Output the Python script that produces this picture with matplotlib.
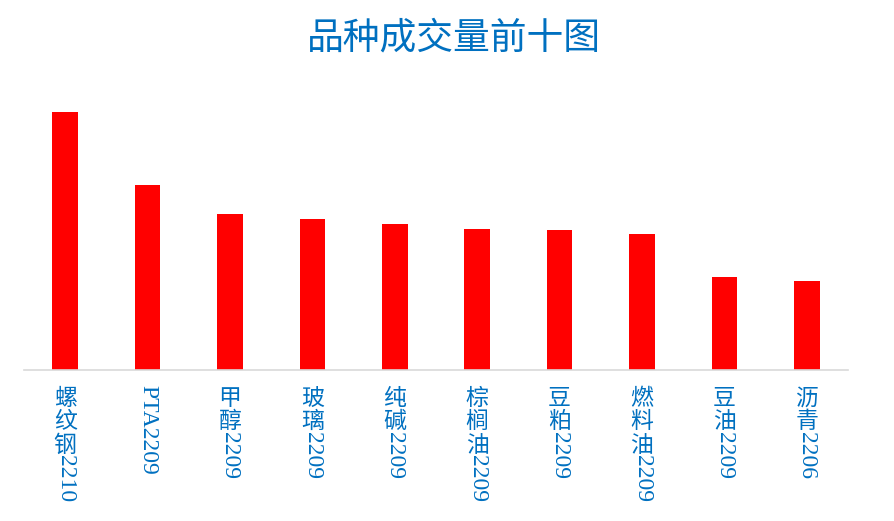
import matplotlib
matplotlib.use("Agg")
import matplotlib.pyplot as plt

categories = ["螺纹钢2210", "PTA2209", "甲醇2209", "玻璃2209", "纯碱2209",
              "棕榈油2209", "豆粕2209", "燃料油2209", "豆油2209", "沥青2206"]
volumes = [257, 184, 155, 150, 145, 140, 139, 135, 92, 88]

W, H = 895, 521
fig = plt.figure(figsize=(W / 100, H / 100), dpi=100)
ax_left, ax_right = 24 / W, 848 / W
ax_bottom, ax_top = 1 - 369.5 / H, 1 - 90 / H
ax = fig.add_axes([ax_left, ax_bottom, ax_right - ax_left, ax_top - ax_bottom])

x = list(range(len(categories)))
ax.bar(x, volumes, width=0.31, color="#FF0000", zorder=2)
ax.set_xlim(-0.5, len(categories) - 0.5)
ax.set_ylim(0, 278.5)

for s in ["left", "right", "top"]:
    ax.spines[s].set_visible(False)
ax.spines["bottom"].set_color("#D9D9D9")
ax.spines["bottom"].set_linewidth(1.2)
ax.set_xticks([])
ax.set_yticks([])

blue = "#0070C0"
cjk = "Noto Sans CJK SC"
serif = "Liberation Serif"
fs = 16.5
adv = 16.8  # points per stacked CJK character
gap = 12.5

for i, lab in enumerate(categories):
    # split CJK prefix and ASCII suffix
    k = 0
    while k < len(lab) and ord(lab[k]) > 127:
        k += 1
    prefix, suffix = lab[:k], lab[k:]
    for j, ch in enumerate(prefix):
        ax.annotate(ch, xy=(i, 0), xycoords=("data", "axes fraction"),
                    xytext=(0, -(gap + j * adv)), textcoords="offset points",
                    ha="center", va="top", fontsize=fs, color=blue,
                    family=[cjk, "DejaVu Sans"])
    start = gap + len(prefix) * adv + (-1.0 if prefix else -1.5)
    ax.annotate(suffix, xy=(i, 0), xycoords=("data", "axes fraction"),
                xytext=(0, -start), textcoords="offset points",
                ha="center", va="top", rotation=-90, fontsize=fs + 0.5, color=blue,
                family=[serif, "DejaVu Serif"])

fig.text(454 / W, 1 - 38 / H, "品种成交量前十图", ha="center", va="center",
         fontsize=26.5, color=blue, family=[cjk, "DejaVu Sans"])

fig.savefig("out.png", dpi=100)
